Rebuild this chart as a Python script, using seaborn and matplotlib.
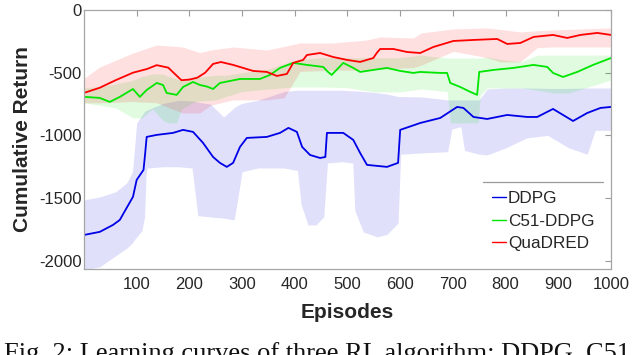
import matplotlib
matplotlib.use("Agg")
import matplotlib.pyplot as plt
import seaborn as sns
from matplotlib.lines import Line2D

# mean curves
ddpg_ep = [1, 30, 55, 68, 81, 93, 100, 113, 116, 119, 138, 169, 188, 207, 226, 245, 258, 271, 283, 296,
           309, 347, 372, 388, 404, 414, 429, 448, 458, 461, 492, 511, 524, 537, 575, 596, 600, 638, 676, 708,
           720, 739, 765, 803, 841, 860, 890, 909, 928, 955, 980, 1000]
ddpg_ret = [-1793, -1769, -1714, -1674, -1578, -1490, -1355, -1275, -1150, -1012, -996, -980, -956, -972, -1060, -1172, -1219, -1251, -1219, -1092,
            -1020, -1012, -980, -940, -972, -1092, -1156, -1180, -1172, -980, -980, -1036, -1140, -1235, -1251, -1219, -956, -901, -861, -773,
            -781, -853, -869, -837, -853, -853, -789, -837, -885, -821, -781, -773]

c51_ep = [1, 30, 49, 68, 93, 106, 119, 138, 150, 157, 176, 188, 207, 220, 233, 245, 258, 296, 334, 353,
          372, 397, 423, 454, 462, 470, 492, 511, 524, 549, 575, 600, 625, 638, 676, 689, 695, 714, 733, 746,
          750, 777, 815, 853, 879, 890, 909, 936, 966, 1000]
c51_ret = [-693, -701, -733, -693, -630, -693, -638, -582, -598, -662, -677, -614, -574, -598, -610, -630, -582, -550, -550, -518,
           -462, -422, -438, -454, -490, -518, -422, -462, -494, -478, -462, -486, -502, -494, -502, -502, -582, -614, -653, -677,
           -494, -478, -462, -438, -454, -502, -534, -494, -438, -383]

qua_ep = [1, 30, 60, 93, 120, 138, 160, 175, 185, 200, 215, 230, 245, 260, 283, 302, 321, 347, 366, 385,
          397, 416, 423, 448, 473, 499, 524, 549, 556, 562, 587, 613, 638, 663, 701, 739, 784, 803, 828, 853,
          890, 917, 942, 974, 1000]
qua_ret = [-660, -620, -560, -500, -470, -440, -460, -520, -560, -555, -540, -500, -430, -415, -438, -462, -486, -494, -526, -510,
           -422, -398, -359, -343, -375, -398, -414, -383, -340, -311, -311, -335, -343, -295, -247, -239, -231, -271, -263, -215,
           -199, -223, -199, -183, -199]

# shaded bands
ddpg_band_ep = [1, 30, 60, 81, 92, 96, 100, 110, 115, 118, 120, 150, 180, 205, 212, 216, 240, 265, 285, 292,
                300, 330, 380, 405, 412, 425, 440, 455, 462, 490, 510, 514, 530, 556, 575, 596, 601, 640, 690, 698,
                715, 722, 750, 765, 800, 840, 880, 920, 955, 970, 1000]
ddpg_band_lo = [-2072, -2048, -1960, -1900, -1857, -1830, -1810, -1760, -1650, -1300, -1260, -1250, -1250, -1260, -1500, -1640, -1650, -1660, -1674, -1500,
                -1290, -1260, -1260, -1280, -1550, -1714, -1714, -1650, -1220, -1210, -1220, -1600, -1770, -1809, -1790, -1698, -1150, -1140, -1130, -950,
                -930, -1120, -1150, -1156, -1100, -1020, -1000, -1100, -1150, -960, -960]
ddpg_band_hi = [-1514, -1490, -1450, -1379, -1290, -1100, -900, -840, -810, -800, -797, -745, -720, -725, -730, -735, -750, -853, -780, -760,
                -745, -720, -650, -640, -640, -640, -640, -640, -640, -640, -645, -645, -650, -660, -670, -690, -690, -693, -717, -717,
                -717, -717, -717, -630, -622, -622, -625, -625, -622, -622, -622]

c51_band_ep = [1, 30, 60, 93, 110, 130, 150, 160, 176, 185, 210, 250, 270, 300, 350, 400, 450, 500, 550, 600,
               640, 689, 695, 720, 748, 752, 765, 800, 830, 860, 890, 920, 960, 1000]
c51_band_lo = [-741, -760, -780, -861, -861, -790, -880, -900, -900, -790, -730, -717, -690, -650, -630, -614, -614, -620, -653, -653,
               -630, -650, -900, -900, -900, -680, -622, -622, -622, -640, -662, -662, -610, -558]
c51_band_hi = [-620, -610, -590, -560, -530, -510, -510, -530, -550, -560, -540, -520, -520, -500, -470, -400, -380, -380, -380, -380,
               -360, -383, -383, -383, -383, -383, -375, -400, -414, -360, -360, -360, -360, -359]

qua_band_ep = [1, 30, 93, 138, 187, 220, 240, 283, 347, 380, 410, 473, 537, 562, 625, 640, 701, 765, 790, 828,
               860, 890, 950, 1000]
qua_band_hi = [-542, -454, -343, -279, -295, -340, -319, -295, -319, -290, -263, -263, -239, -215, -223, -183, -151, -143, -155, -175,
               -165, -159, -150, -143]
qua_band_lo = [-740, -740, -730, -740, -821, -821, -760, -717, -717, -700, -490, -480, -480, -470, -460, -440, -330, -380, -414, -414,
               -300, -295, -295, -295]

labels = ["DDPG", "C51-DDPG", "QuaDRED"]
colors = ["#0000e6", "#00e600", "#ff0000"]

sns.set_style("white")
plt.rcParams["font.family"] = ["Liberation Sans", "DejaVu Sans"]
plt.rcParams["axes.unicode_minus"] = False

fig = plt.figure(figsize=(6.4, 3.55), dpi=100)
ax = fig.add_axes([0.132, 0.2423, 0.8227, 0.7296])

bands = [(ddpg_band_ep, ddpg_band_lo, ddpg_band_hi),
         (c51_band_ep, c51_band_lo, c51_band_hi),
         (qua_band_ep, qua_band_lo, qua_band_hi)]
for (ep, lo, hi), c in zip(bands, colors):
    ax.fill_between(ep, lo, hi, color=c, alpha=0.12, lw=0)

curves = [(ddpg_ep, ddpg_ret), (c51_ep, c51_ret), (qua_ep, qua_ret)]
for (ep, ret), c in zip(curves, colors):
    sns.lineplot(x=ep, y=ret, color=c, lw=1.3, ax=ax, errorbar=None, legend=False)

ax.set_xlim(1, 1000)
ax.set_ylim(-2065, 0)
ax.set_xticks(range(100, 1001, 100))
ax.set_yticks([0, -500, -1000, -1500, -2000])
ax.tick_params(axis="both", direction="in", length=4, top=True, right=True,
               color="#9a9a9a", labelcolor="#262626", labelsize=12)
ax.tick_params(axis="x", pad=6)
ax.tick_params(axis="y", pad=2)
for s in ax.spines.values():
    s.set_color("#a6a6a6")
    s.set_linewidth(0.9)

ax.set_xlabel("Episodes", fontsize=15, fontweight="bold", color="#262626", labelpad=8)
ax.set_ylabel("Cumulative Return", fontsize=15, fontweight="bold", color="#262626", labelpad=5)

handles = [Line2D([], [], color=c, lw=1.0) for c in colors]
leg = ax.legend(handles, labels, loc="upper left", bbox_to_anchor=(0.757, 0.334),
                borderaxespad=0, fontsize=12.3, handlelength=0.85, handletextpad=0.1,
                labelspacing=0.45, frameon=True, fancybox=False, borderpad=0.5)
leg.get_frame().set_edgecolor("none")
leg.get_frame().set_facecolor("white")
leg.get_frame().set_alpha(1)

fig.canvas.draw()
bb = leg.get_window_extent().transformed(fig.transFigure.inverted())
fig.add_artist(Line2D([bb.x0, bb.x1], [bb.y1, bb.y1], color="#9a9a9a", lw=0.9,
                      transform=fig.transFigure))

fig.text(0.006, -0.0152, "Fig. 2: Learning curves of three RL algorithm: DDPG, C51",
         family=["Liberation Serif", "DejaVu Serif"], fontsize=19, color="#111111",
         va="baseline", ha="left")

fig.savefig("out.png", dpi=100)
